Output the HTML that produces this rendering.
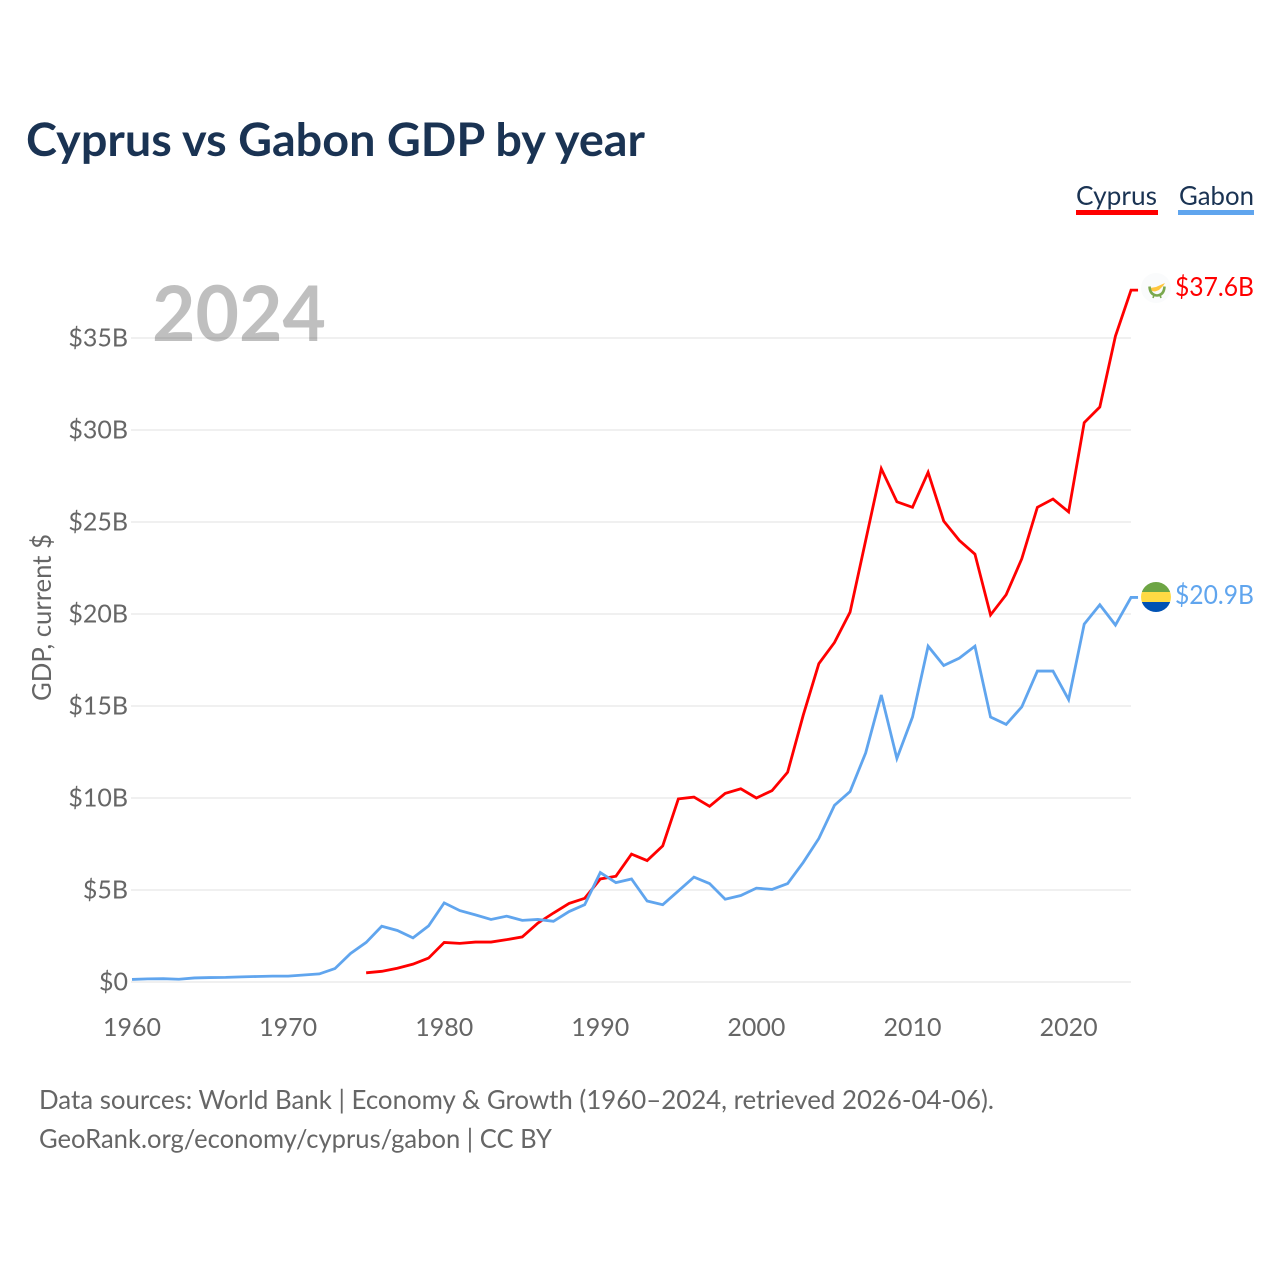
<!DOCTYPE html>
<html lang="en">
<head>
<meta charset="utf-8">
<title>Cyprus vs Gabon GDP by year</title>
<style>
html,body{margin:0;padding:0;background:#fff;width:1280px;height:1280px;overflow:hidden}
svg{display:block}
text{font-family:"Lato","Carlito","Liberation Sans",sans-serif}
</style>
</head>
<body>
<svg id="chart" xmlns="http://www.w3.org/2000/svg" width="1280" height="1280" viewBox="0 0 1280 1280">
  <g id="grid"></g>
  <text x="152" y="341" font-size="77" font-weight="700" fill="#000000" fill-opacity="0.25" textLength="174" lengthAdjust="spacingAndGlyphs">2024</text>
  <g id="yticks"></g>
  <g id="xticks"></g>
  <text x="26" y="156" font-size="46" font-weight="700" fill="#1a3353" textLength="619" lengthAdjust="spacingAndGlyphs">Cyprus vs Gabon GDP by year</text>
  <g>
    <text x="1076" y="205" font-size="26" fill="#1a3353" textLength="81" lengthAdjust="spacingAndGlyphs">Cyprus</text>
    <rect x="1076" y="210" width="82" height="5" fill="#ff0000"/>
  </g>
  <g>
    <text x="1179" y="205" font-size="26" fill="#1a3353" textLength="75" lengthAdjust="spacingAndGlyphs">Gabon</text>
    <rect x="1178" y="210" width="76" height="5" fill="#60a5ee"/>
  </g>
  <text transform="translate(51,701) rotate(-90)" font-size="26" fill="#666666" textLength="167" lengthAdjust="spacingAndGlyphs">GDP, current $</text>
  <g id="series"></g>
  <defs>
    <clipPath id="clip-ga"><circle cx="1156" cy="597" r="15"/></clipPath>
  </defs>
  <g>
    <circle cx="1156" cy="288" r="15" fill="#fafbfc"/>
    <path d="M1150 288 L1156 287 L1165 283 L1163 286 L1159 290 L1155 291.5 L1152 291 Z" fill="#ffc63d"/>
    <path d="M1149.5 286.5 Q1150 295 1157 295.5 Q1164 295 1164.5 286.5" fill="none" stroke="#7aa84e" stroke-width="2.6"/>
    <path d="M1154 295 L1153 298 M1160 295 L1161 298" fill="none" stroke="#7aa84e" stroke-width="1.6"/>
  </g>
  <g clip-path="url(#clip-ga)">
    <rect x="1141" y="582" width="30" height="10" fill="#6da544"/>
    <rect x="1141" y="592" width="30" height="10" fill="#ffda44"/>
    <rect x="1141" y="602" width="30" height="10" fill="#0052b4"/>
  </g>
  <text x="1175" y="296" font-size="26" fill="#ff0000" textLength="79" lengthAdjust="spacingAndGlyphs">$37.6B</text>
  <text x="1175" y="604" font-size="26" fill="#60a5ee" textLength="79" lengthAdjust="spacingAndGlyphs">$20.9B</text>
  <text x="39" y="1109" font-size="26" fill="#666666" textLength="955" lengthAdjust="spacingAndGlyphs">Data sources: World Bank | Economy &amp; Growth (1960–2024, retrieved 2026-04-06).</text>
  <text x="39" y="1148" font-size="26" fill="#666666" textLength="513" lengthAdjust="spacingAndGlyphs">GeoRank.org/economy/cyprus/gabon | CC BY</text>
</svg>
<script>
const gabonStartYear = 1960;
const cyprusStartYear = 1975;
const gabonValues = [0.14,0.17,0.18,0.15,0.22,0.24,0.25,0.28,0.30,0.32,0.32,0.38,0.44,0.73,1.55,2.15,3.03,2.80,2.40,3.05,4.30,3.88,3.65,3.40,3.58,3.35,3.40,3.30,3.83,4.20,5.95,5.40,5.60,4.40,4.20,4.95,5.70,5.35,4.50,4.70,5.10,5.03,5.35,6.50,7.80,9.60,10.35,12.45,15.60,12.15,14.40,18.25,17.20,17.60,18.25,14.40,14.00,14.95,16.90,16.90,15.35,19.45,20.50,19.40,20.90];
const cyprusValues = [0.50,0.58,0.75,0.97,1.30,2.15,2.10,2.17,2.17,2.30,2.45,3.20,3.75,4.27,4.55,5.60,5.75,6.95,6.60,7.40,9.95,10.05,9.55,10.25,10.50,10.00,10.40,11.40,14.50,17.30,18.45,20.10,24.00,27.90,26.10,25.80,27.70,25.05,24.00,23.25,19.95,21.05,23.00,25.80,26.25,25.55,30.40,31.25,35.10,37.60];
const yTickValues = [0,5,10,15,20,25,30,35];
const yTickLabels = ["$0","$5B","$10B","$15B","$20B","$25B","$30B","$35B"];
const xTickYears = [1960,1970,1980,1990,2000,2010,2020];

const NS = 'http://www.w3.org/2000/svg';
function xScale(year){ return 132 + (year - 1960) * 15.61; }
function yScale(v){ return 982 - v * 18.4; }
function make(tag, attrs){
  const el = document.createElementNS(NS, tag);
  for (const k in attrs) el.setAttribute(k, attrs[k]);
  return el;
}
const grid = document.getElementById('grid');
const yticks = document.getElementById('yticks');
const xticks = document.getElementById('xticks');
const series = document.getElementById('series');

yTickValues.forEach(function(v, i){
  const line = make('line', {x1:131, x2:1131, y1:yScale(v), y2:yScale(v), stroke:'#ececec', 'stroke-width':1.6});
  
  
  grid.appendChild(line);
  const t = make('text', {x:128, y:yScale(v)+8.5, 'text-anchor':'end', 'font-size':25, fill:'#666666'});
  
  
  t.textContent = yTickLabels[i];
  yticks.appendChild(t);
});

xTickYears.forEach(function(y){
  const t = make('text', {x:xScale(y), y:1036, 'text-anchor':'middle', 'font-size':25, fill:'#666666'});
  
  
  t.textContent = y;
  xticks.appendChild(t);
});

function linePath(values, startYear){
  let d = '';
  values.forEach(function(v, i){
    d += (i ? 'L' : 'M') + xScale(startYear + i).toFixed(2) + ' ' + yScale(v).toFixed(2) + ' ';
  });
  const last = values[values.length - 1];
  d += 'L' + (xScale(startYear + values.length - 1) + 7).toFixed(2) + ' ' + yScale(last).toFixed(2);
  return d;
}

const cyprusLine = make('path', {d:linePath(cyprusValues, cyprusStartYear), fill:'none', stroke:'#ff0000', 'stroke-width':2.8, 'stroke-linejoin':'miter'});


series.appendChild(cyprusLine);

const gabonLine = make('path', {d:linePath(gabonValues, gabonStartYear), fill:'none', stroke:'#60a5ee', 'stroke-width':2.8, 'stroke-linejoin':'miter'});


series.appendChild(gabonLine);
</script>
</body>
</html>
